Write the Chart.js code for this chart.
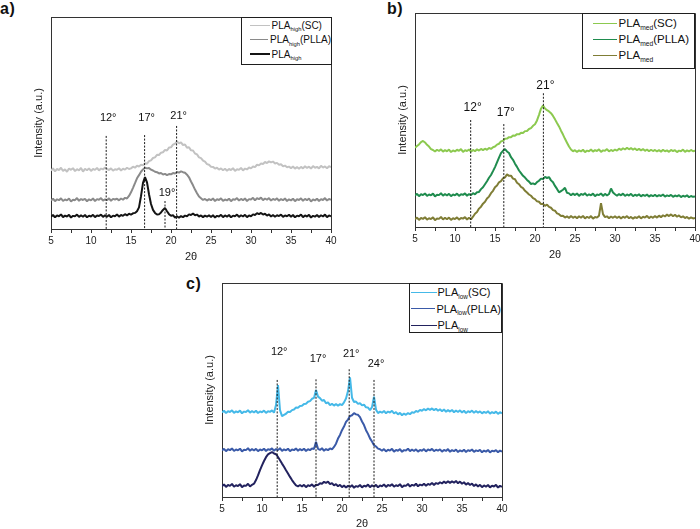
<!DOCTYPE html>
<html>
<head>
<meta charset="utf-8">
<script src="https://cdn.jsdelivr.net/npm/chart.js"></script>
<style>
  body { margin: 0; width: 700px; height: 529px; overflow: hidden; background: #fff; position: relative; }
  canvas { position: absolute; }
  .tag { position: absolute; font: bold 16px "Liberation Sans", Arial, sans-serif; line-height: 1; color: #111; letter-spacing: 0.5px; }
  .legend { position: absolute; box-sizing: border-box; border: 1.5px solid #1e1e1e; background: #fff;
            font-family: "Liberation Sans", Arial, sans-serif; color: #111; }
  .legend .row { display: flex; align-items: center; white-space: nowrap; }
  .legend .swatch { display: inline-block; height: 0; border-top-style: solid; }
  .legend .sub { font-size: 0.58em; position: relative; top: 0.4em; }
  #legendA { left: 241px; top: 17px; width: 91px; height: 48px; padding: 0 0 0 7.5px; font-size: 10px; }
  #legendA .row { height: 14.5px; }
  #legendA .swatch { width: 20px; margin-right: 2px; }
  #legendB { left: 582px; top: 13px; width: 113px; height: 56px; padding: 1px 0 0 9.5px; font-size: 11.5px; }
  #legendB .row { height: 16px; }
  #legendB .swatch { width: 24px; margin-right: 2px; }
  #legendC { left: 409px; top: 283px; width: 93px; height: 50px; padding: 0 0 0 0.5px; font-size: 11px; }
  #legendC .row { height: 16.5px; }
  #legendC .swatch { width: 26px; margin-right: 1px; }
</style>
</head>
<body>
<div class="tag" style="left:0px;top:1px">a)</div>
<div class="tag" style="left:387px;top:1px">b)</div>
<div class="tag" style="left:186px;top:276px">c)</div>

<canvas id="chartA" width="310" height="265" style="left:32px;top:0px"></canvas>
<canvas id="chartB" width="304" height="263" style="left:396px;top:0px"></canvas>
<canvas id="chartC" width="312" height="265" style="left:203px;top:266px"></canvas>

<div class="legend" id="legendA"></div>
<div class="legend" id="legendB"></div>
<div class="legend" id="legendC"></div>

<script>
// 2θ grid shared by every trace
const twoTheta = [
  5, 5.25, 5.5, 5.75, 6, 6.25, 6.5, 6.75, 7, 7.25, 7.5, 7.75, 8, 8.25, 8.5, 8.75, 9, 9.25, 9.5, 9.75,
  10, 10.25, 10.5, 10.75, 11, 11.25, 11.5, 11.75, 12, 12.25, 12.5, 12.75, 13, 13.25, 13.5, 13.75, 14, 14.25, 14.5, 14.75,
  15, 15.25, 15.5, 15.75, 16, 16.25, 16.5, 16.75, 17, 17.25, 17.5, 17.75, 18, 18.25, 18.5, 18.75, 19, 19.25, 19.5, 19.75,
  20, 20.25, 20.5, 20.75, 21, 21.25, 21.5, 21.75, 22, 22.25, 22.5, 22.75, 23, 23.25, 23.5, 23.75, 24, 24.25, 24.5, 24.75,
  25, 25.25, 25.5, 25.75, 26, 26.25, 26.5, 26.75, 27, 27.25, 27.5, 27.75, 28, 28.25, 28.5, 28.75, 29, 29.25, 29.5, 29.75,
  30, 30.25, 30.5, 30.75, 31, 31.25, 31.5, 31.75, 32, 32.25, 32.5, 32.75, 33, 33.25, 33.5, 33.75, 34, 34.25, 34.5, 34.75,
  35, 35.25, 35.5, 35.75, 36, 36.25, 36.5, 36.75, 37, 37.25, 37.5, 37.75, 38, 38.25, 38.5, 38.75, 39, 39.25, 39.5, 39.75,
  40
];
const xTicks = [5, 10, 15, 20, 25, 30, 35, 40];

// Panel a) PLA high
const highLabels = ['PLA_high(SC)', 'PLA_high(PLLA)', 'PLA_high'];
const highSC = [
  27.5, 28.6, 27.2, 28.3, 27.8, 28.9, 27.4, 28.1, 27.0, 28.5, 27.9, 28.7, 27.3, 28.2, 27.6, 28.8, 27.1, 28.4, 27.7, 28.6,
  27.4, 28.3, 27.9, 28.8, 27.6, 28.5, 28.1, 29.0, 28.4, 27.8, 28.6, 27.5, 28.2, 27.9, 28.7, 27.6, 28.4, 28.0, 28.9, 28.3,
  28.6, 29.4, 28.9, 29.8, 29.5, 30.3, 30.0, 31.0, 30.8, 32.0, 32.4, 33.5, 33.8, 35.0, 34.9, 36.0, 36.2, 37.3, 37.0, 38.4,
  38.5, 39.8, 40.2, 41.3, 40.4, 40.9, 39.6, 39.9, 38.3, 38.6, 37.1, 37.0, 35.6, 35.2, 33.8, 33.4, 32.3, 31.8, 30.6, 30.3,
  29.4, 29.3, 28.5, 28.9, 28.0, 28.6, 27.7, 28.4, 27.5, 28.3, 27.8, 28.7, 27.4, 28.2, 27.9, 28.8, 27.6, 28.5, 28.1, 29.0,
  28.6, 29.5, 29.2, 30.3, 30.0, 30.9, 30.7, 31.6, 31.1, 31.9, 31.4, 31.8, 30.9, 31.2, 30.3, 30.5, 29.6, 29.9, 29.1, 29.4,
  28.7, 29.5, 28.5, 29.2, 28.4, 29.3, 28.6, 29.6, 28.8, 29.4, 28.5, 29.7, 28.9, 29.3, 28.6, 29.8, 29.0, 29.5, 28.7, 29.6,
  29.2
];
const highPLLA = [
  13.4, 14.3, 13.1, 14.0, 13.6, 14.5, 13.2, 13.9, 13.5, 14.4, 13.0, 13.8, 13.6, 14.6, 13.3, 14.1, 13.7, 14.2, 13.1, 14.0,
  13.5, 14.4, 13.2, 14.1, 13.8, 14.6, 13.4, 14.0, 13.6, 14.5, 13.3, 14.2, 13.9, 14.3, 13.5, 14.4, 13.8, 14.7, 14.4, 15.6,
  17.3, 19.4, 21.6, 23.9, 25.4, 27.0, 28.1, 28.9, 28.6, 28.8, 28.0, 27.6, 27.0, 26.8, 26.2, 26.4, 25.7, 26.0, 25.4, 25.9,
  25.8, 26.4, 26.2, 26.9, 26.6, 27.2, 26.8, 26.5, 25.6, 24.4, 22.4, 20.6, 18.6, 16.9, 15.3, 14.5, 13.7, 14.2, 13.4, 14.1,
  13.6, 14.4, 13.2, 14.0, 13.7, 14.5, 13.3, 13.9, 13.5, 14.3, 13.1, 14.0, 13.8, 14.6, 13.4, 14.2, 13.6, 14.4, 13.2, 14.1,
  13.9, 14.7, 13.5, 14.5, 14.1, 14.8, 13.6, 14.4, 13.8, 14.6, 13.4, 14.2, 13.7, 14.5, 13.3, 14.1, 13.6, 14.4, 13.2, 14.0,
  13.5, 14.3, 13.1, 14.0, 13.7, 14.5, 13.3, 14.2, 13.6, 14.4, 13.0, 13.9, 13.5, 14.3, 13.2, 14.1, 13.7, 14.6, 13.4, 14.2,
  13.8
];
const highBase = [
  5.8, 6.6, 5.5, 6.4, 6.0, 6.9, 5.6, 6.3, 5.9, 6.7, 5.4, 6.2, 6.0, 6.8, 5.7, 6.5, 5.8, 6.6, 5.5, 6.3,
  5.9, 6.7, 5.6, 6.4, 6.1, 6.8, 5.7, 6.5, 5.8, 6.6, 5.5, 6.3, 6.0, 6.9, 5.8, 6.6, 6.2, 7.0, 6.4, 7.2,
  6.8, 7.4, 7.6, 8.4, 10.2, 15.5, 21.8, 24.5, 22.0, 16.4, 11.8, 9.0, 7.6, 6.8, 6.9, 7.8, 9.0, 9.9, 8.4, 7.0,
  6.2, 6.5, 5.4, 6.0, 5.3, 6.1, 5.6, 6.3, 6.0, 6.9, 6.6, 7.3, 6.5, 6.8, 5.9, 6.4, 5.6, 6.3, 5.8, 6.5,
  5.7, 6.5, 5.4, 6.2, 5.9, 6.7, 5.6, 6.4, 5.8, 6.6, 5.5, 6.3, 6.0, 6.8, 5.7, 6.5, 5.9, 6.7, 5.6, 6.4,
  6.0, 6.9, 6.6, 7.5, 7.0, 7.6, 6.8, 7.2, 6.3, 6.9, 5.9, 6.6, 5.8, 6.5, 6.1, 6.8, 5.7, 6.4, 6.0, 6.7,
  5.8, 6.6, 5.5, 6.3, 6.0, 6.8, 5.6, 6.4, 5.9, 6.7, 5.4, 6.2, 5.8, 6.6, 5.7, 6.5, 5.9, 6.8, 5.6, 6.4,
  6.0
];
const highPeaks = [11.9, 16.7, 19.25, 20.7];
const highPeakTops = [43.9, 44.3, 13.2, 48.6];
const highPeakText = ['12°', '17°', '19°', '21°'];
const highTextY = [52.4, 52.4, 17.2, 53.3];

// Panel b) PLA med
const medLabels = ['PLA_med(SC)', 'PLA_med(PLLA)', 'PLA_med'];
const medSC = [
  37.0, 37.8, 38.6, 39.7, 40.2, 39.5, 38.4, 37.6, 36.4, 36.0, 35.3, 36.1, 35.5, 36.3, 35.2, 35.9, 35.4, 36.2, 35.0, 35.8,
  35.3, 36.1, 35.6, 36.4, 35.1, 35.9, 35.5, 36.2, 35.2, 36.0, 35.4, 36.3, 35.7, 36.5, 35.9, 36.6, 36.1, 36.9, 36.5, 37.3,
  37.6, 38.5, 38.9, 40.0, 40.3, 41.2, 41.3, 42.0, 41.9, 42.8, 42.6, 43.4, 43.3, 44.0, 43.9, 44.8, 44.9, 45.8, 46.2, 47.3,
  48.0, 49.8, 52.4, 55.3, 56.8, 55.4, 54.6, 54.0, 53.2, 51.9, 50.3, 48.6, 47.0, 45.0, 43.2, 41.2, 39.4, 37.6, 36.2, 35.4,
  35.9, 35.1, 35.8, 35.3, 36.1, 35.0, 35.7, 35.4, 36.2, 35.2, 35.9, 35.5, 36.3, 35.1, 35.8, 35.6, 36.4, 35.3, 36.0, 35.5,
  36.2, 35.7, 36.6, 36.0, 36.8, 36.2, 37.0, 36.3, 36.9, 36.1, 36.7, 35.9, 36.5, 35.8, 36.4, 35.6, 36.2, 35.4, 36.1, 35.5,
  36.0, 35.3, 35.9, 35.2, 36.1, 35.4, 35.8, 35.1, 36.0, 35.5, 35.9, 35.0, 35.7, 35.4, 36.2, 35.1, 35.8, 35.3, 36.0, 35.4,
  35.7
];
const medPLLA = [
  14.7, 15.5, 14.4, 15.3, 14.9, 15.7, 14.5, 15.2, 14.8, 15.6, 14.3, 15.1, 14.9, 15.8, 14.6, 15.4, 14.7, 15.5, 14.4, 15.2,
  14.8, 15.6, 14.5, 15.3, 15.0, 15.7, 14.6, 15.4, 14.9, 15.8, 15.3, 16.2, 16.4, 17.7, 18.6, 20.0, 21.4, 23.0, 24.3, 26.1,
  28.0, 30.2, 32.4, 34.5, 35.6, 36.4, 35.3, 34.6, 32.6, 31.4, 29.6, 28.1, 26.4, 25.2, 23.9, 23.1, 22.0, 21.2, 20.1, 20.4,
  19.9, 21.0, 21.6, 22.6, 22.4, 23.4, 22.9, 23.3, 21.8, 20.9, 19.2, 17.8, 16.2, 16.8, 17.4, 18.3, 16.0, 15.7, 14.8, 15.6,
  14.9, 15.7, 14.5, 15.4, 15.0, 15.8, 14.6, 15.3, 14.8, 15.6, 14.4, 15.2, 14.9, 15.7, 14.5, 15.5, 14.7, 15.4, 18.0, 16.1,
  15.3, 14.6, 15.4, 14.8, 15.6, 14.5, 15.2, 14.7, 15.5, 14.4, 15.1, 14.6, 15.3, 14.3, 15.0, 14.5, 15.2, 14.2, 14.9, 14.4,
  15.1, 14.3, 14.9, 14.5, 15.2, 14.2, 14.8, 14.4, 15.0, 14.1, 14.7, 14.3, 14.9, 14.0, 14.6, 14.2, 14.8, 13.9, 14.5, 14.1,
  14.3
];
const medBase = [
  3.6, 4.4, 3.3, 4.2, 3.8, 4.6, 3.4, 4.1, 3.7, 4.5, 3.2, 4.0, 3.8, 4.7, 3.5, 4.3, 3.6, 4.4, 3.3, 4.1,
  3.7, 4.5, 3.4, 4.2, 3.9, 4.6, 3.5, 4.3, 3.6, 4.8, 6.2, 7.0, 8.6, 9.5, 10.9, 11.8, 13.3, 14.2, 15.8, 16.9,
  18.6, 19.4, 20.9, 21.4, 22.7, 23.2, 24.6, 23.9, 24.0, 22.6, 22.3, 20.7, 20.0, 18.7, 18.2, 16.9, 16.1, 15.2, 14.6, 13.5,
  13.0, 12.0, 11.8, 10.7, 10.8, 9.9, 10.5, 9.4, 9.0, 7.9, 7.6, 6.4, 6.0, 5.1, 5.3, 4.4, 5.0, 4.2, 5.1, 4.3,
  4.9, 4.1, 5.0, 4.3, 5.2, 4.0, 4.8, 4.2, 5.1, 3.9, 4.7, 4.4, 5.3, 11.1, 6.0, 4.6, 5.0, 4.1, 4.9, 4.3,
  5.0, 4.2, 4.9, 4.0, 4.8, 4.3, 5.1, 4.1, 4.7, 3.9, 4.6, 4.2, 5.0, 4.0, 4.8, 4.4, 5.2, 4.1, 4.9, 4.3,
  5.1, 4.4, 5.3, 4.6, 5.5, 4.9, 5.8, 5.1, 5.9, 5.0, 5.7, 4.8, 5.4, 4.5, 5.0, 4.2, 4.7, 3.9, 4.5, 4.0,
  4.2
];
const medPeaks = [11.96, 16.1, 21.05];
const medPeakTops = [50, 48.1, 62.5];
const medPeakText = ['12°', '17°', '21°'];
const medTextY = [55.8, 53.5, 65.9];

// Panel c) PLA low
const lowLabels = ['PLA_low(SC)', 'PLA_low(PLLA)', 'PLA_low'];
const lowSC = [
  39.5, 40.3, 39.2, 40.1, 39.7, 40.5, 39.3, 40.0, 39.6, 40.4, 39.1, 39.9, 39.7, 40.6, 39.4, 40.2, 39.5, 40.3, 39.2, 40.0,
  39.6, 40.4, 39.3, 40.1, 39.8, 40.5, 39.4, 43.0, 52.3, 40.6, 37.8, 38.4, 38.9, 39.8, 39.7, 40.6, 40.9, 41.8, 41.7, 42.5,
  42.6, 43.5, 43.6, 44.5, 44.8, 45.9, 46.3, 50.0, 46.9, 46.2, 45.0, 45.3, 43.8, 44.2, 42.9, 43.6, 42.7, 43.5, 42.6, 43.4,
  42.9, 44.2, 46.0, 49.5, 55.9, 46.4, 44.4, 44.6, 43.5, 43.9, 42.8, 43.2, 41.9, 41.8, 40.6, 42.0, 46.9, 40.8, 39.2, 39.9,
  39.4, 40.2, 39.1, 39.9, 39.5, 40.3, 39.0, 39.7, 38.6, 39.3, 38.2, 39.0, 38.4, 39.2, 38.7, 39.6, 39.3, 40.2, 39.8, 40.7,
  40.3, 41.1, 40.5, 41.3, 40.7, 41.4, 40.6, 41.2, 40.3, 41.0, 40.1, 40.9, 39.8, 40.6, 39.9, 40.7, 39.6, 40.4, 39.7, 40.5,
  39.5, 40.3, 39.2, 40.1, 39.6, 40.4, 39.3, 40.2, 39.4, 40.0, 39.1, 39.8, 39.3, 40.1, 38.9, 39.7, 39.2, 39.9, 38.8, 39.6,
  39.1
];
const lowPLLA = [
  21.7, 22.5, 21.4, 22.3, 21.9, 22.7, 21.5, 22.2, 21.8, 22.6, 21.3, 22.1, 21.9, 22.8, 21.6, 22.4, 21.7, 22.5, 21.4, 22.2,
  21.8, 22.6, 21.5, 22.3, 22.0, 22.7, 21.6, 22.4, 21.9, 22.8, 21.5, 22.3, 21.8, 22.6, 21.4, 22.2, 21.9, 22.7, 21.6, 22.4,
  21.8, 22.6, 21.5, 22.3, 21.9, 22.7, 22.4, 25.8, 22.5, 22.0, 22.8, 21.6, 22.4, 21.9, 22.7, 22.3, 23.4, 24.9, 27.3, 29.0,
  31.2, 32.9, 35.1, 36.2, 37.8, 38.2, 39.2, 38.6, 38.4, 37.3, 35.3, 33.6, 31.2, 29.5, 27.4, 25.9, 24.2, 23.6, 22.6, 22.3,
  21.6, 22.4, 21.3, 22.1, 21.7, 22.5, 21.2, 22.0, 21.6, 22.4, 21.1, 21.9, 21.7, 22.6, 21.4, 22.2, 21.5, 22.3, 21.2, 22.0,
  21.6, 22.4, 21.3, 22.2, 21.8, 22.5, 21.4, 22.1, 21.7, 22.3, 21.2, 22.0, 21.5, 22.4, 21.1, 21.9, 21.4, 22.2, 21.0, 21.8,
  21.3, 22.1, 21.0, 21.9, 21.5, 22.2, 21.1, 21.8, 21.4, 22.0, 20.9, 21.7, 21.2, 22.0, 20.8, 21.6, 21.3, 21.9, 20.9, 21.7,
  21.2
];
const lowBase = [
  5.0, 5.9, 4.7, 5.6, 5.2, 6.1, 4.8, 5.5, 5.1, 6.0, 4.6, 5.4, 5.2, 6.2, 4.9, 5.7, 6.2, 7.9, 10.1, 12.6,
  14.8, 16.8, 18.6, 19.9, 20.5, 21.0, 20.3, 20.0, 18.7, 17.2, 15.6, 14.1, 12.5, 11.0, 9.4, 7.9, 6.6, 5.4, 5.0, 5.6,
  4.9, 5.7, 4.6, 5.5, 5.1, 5.9, 4.8, 5.7, 5.6, 6.4, 6.2, 7.1, 6.6, 7.2, 6.0, 6.5, 5.4, 6.0, 5.0, 5.7,
  4.6, 5.4, 4.4, 5.2, 4.7, 5.5, 4.3, 5.1, 4.8, 5.6, 4.5, 5.3, 4.9, 5.8, 4.6, 5.5, 4.8, 5.7, 4.5, 5.4,
  5.0, 5.9, 4.7, 5.6, 5.2, 6.0, 4.8, 5.5, 5.1, 6.0, 4.6, 5.4, 5.2, 6.1, 4.9, 5.7, 5.3, 6.2, 5.0, 5.8,
  5.4, 6.2, 5.3, 6.1, 5.7, 6.6, 5.6, 6.5, 6.1, 6.9, 6.3, 7.2, 6.5, 7.4, 6.6, 7.3, 6.7, 7.5, 6.4, 7.2,
  6.2, 6.9, 5.8, 6.5, 5.6, 6.3, 5.1, 5.9, 4.9, 5.7, 4.6, 5.4, 4.8, 5.6, 4.5, 5.3, 4.9, 5.7, 4.4, 5.2,
  4.8
];
const lowPeaks = [11.9, 16.75, 20.9, 24.0];
const lowPeakTops = [54.7, 55.0, 59.7, 54.7];
const lowPeakText = ['12°', '17°', '21°', '24°'];
const lowTextY = [67.8, 64.7, 67.0, 62.1];

const FONT = '"Liberation Sans", Arial, sans-serif';

function traceSet(label, values, color, width, keyWidth) {
  return {
    label: label,
    data: twoTheta.map((t, i) => ({ x: t, y: values[i] })),
    borderColor: color,
    borderWidth: width,
    borderJoinStyle: 'bevel',
    pointRadius: 0,
    tension: 0,
    order: 2,
    isTrace: true,
    keyWidth: keyWidth
  };
}

// dashed marker lines at the reflections
function markerSets(xs, tops) {
  return xs.map((p, i) => ({
    label: 'marker',
    data: [{ x: p, y: tops[i] }, { x: p, y: 0 }],
    borderColor: '#1a1a1a',
    borderWidth: 1,
    borderDash: [2, 1.5],
    pointRadius: 0,
    order: 1
  }));
}

const framePlugin = {
  id: 'frame',
  afterDraw(chart) {
    const { ctx, chartArea: a } = chart;
    ctx.save();
    ctx.strokeStyle = '#333';
    ctx.lineWidth = 1;
    ctx.beginPath();
    ctx.moveTo(a.left, Math.round(a.top) + 0.5);
    ctx.lineTo(Math.round(a.right) + 0.5, Math.round(a.top) + 0.5);
    ctx.lineTo(Math.round(a.right) + 0.5, a.bottom);
    ctx.stroke();
    ctx.restore();
  }
};

function peakLabels(xs, ys, texts, size) {
  return {
    id: 'peakLabels',
    afterDatasetsDraw(chart) {
      const { ctx, scales: { x, y } } = chart;
      ctx.save();
      ctx.fillStyle = '#111';
      ctx.font = size + 'px ' + FONT;
      ctx.textAlign = 'center';
      ctx.textBaseline = 'middle';
      texts.forEach((t, i) => ctx.fillText(t, x.getPixelForValue(xs[i]) + 2, y.getPixelForValue(ys[i])));
      ctx.restore();
    }
  };
}

function makeChart(id, box, series, markers, labelPlugin) {
  return new Chart(document.getElementById(id), {
    type: 'line',
    data: { datasets: markers.concat(series) },
    options: {
      responsive: false,
      animation: false,
      layout: { padding: { left: 0, top: box.top, right: box.right, bottom: 0 } },
      plugins: { legend: { display: false }, tooltip: { enabled: false } },
      scales: {
        x: {
          type: 'linear', min: 5, max: 40,
          afterFit: s => { s.height = box.xh; s.paddingLeft = 0; s.paddingRight = 0; },
          ticks: {
            stepSize: 2.5, autoSkip: false, maxRotation: 0, padding: 2, color: '#222',
            font: { family: FONT, size: 10 },
            callback: v => xTicks.includes(v) ? String(v) : ''
          },
          grid: { drawOnChartArea: false, tickLength: 4, tickColor: '#333' },
          border: { color: '#333', width: 1 },
          title: { display: true, text: '2θ', color: '#222', font: { family: FONT, size: 11 },
                   padding: { top: 0, bottom: box.tb } }
        },
        y: {
          min: 0, max: 100,
          afterFit: s => { s.width = box.yw; s.paddingTop = 0; s.paddingBottom = 0; },
          ticks: { display: false },
          grid: { display: false },
          border: { color: '#333', width: 1 },
          title: { display: true, text: 'Intensity (a.u.)', color: '#222', font: { family: FONT, size: 11 }, padding: 0 }
        }
      }
    },
    plugins: [framePlugin, labelPlugin]
  });
}

function buildLegend(elId, chart) {
  const el = document.getElementById(elId);
  chart.data.datasets.filter(d => d.isTrace).forEach(d => {
    const row = document.createElement('div');
    row.className = 'row';
    const sw = document.createElement('span');
    sw.className = 'swatch';
    sw.style.borderTopColor = d.borderColor;
    sw.style.borderTopWidth = d.keyWidth + 'px';
    const txt = document.createElement('span');
    txt.innerHTML = d.label.replace(/_(\w+)/, '<span class="sub">$1</span>');
    row.appendChild(sw);
    row.appendChild(txt);
    el.appendChild(row);
  });
}

const chartA = makeChart('chartA', { top: 17, right: 11, yw: 19, xh: 36, tb: 1 }, [
  traceSet(highLabels[0], highSC, '#c2c2c2', 2, 1),
  traceSet(highLabels[1], highPLLA, '#8a8a8a', 2, 1),
  traceSet(highLabels[2], highBase, '#141414', 2, 2)
], markerSets(highPeaks, highPeakTops), peakLabels(highPeaks, highTextY, highPeakText, 11));

const chartB = makeChart('chartB', { top: 13, right: 5, yw: 19, xh: 36, tb: 1 }, [
  traceSet(medLabels[0], medSC, '#8cc94f', 2, 1.5),
  traceSet(medLabels[1], medPLLA, '#1f8c4e', 2, 1.5),
  traceSet(medLabels[2], medBase, '#7f7d35', 2, 1.5)
], markerSets(medPeaks, medPeakTops), peakLabels(medPeaks, medTextY, medPeakText, 12));

const chartC = makeChart('chartC', { top: 17, right: 13, yw: 19, xh: 34, tb: 0 }, [
  traceSet(lowLabels[0], lowSC, '#45b9e8', 2, 1.5),
  traceSet(lowLabels[1], lowPLLA, '#3a5aa8', 2, 1.5),
  traceSet(lowLabels[2], lowBase, '#22225e', 2, 1.5)
], markerSets(lowPeaks, lowPeakTops), peakLabels(lowPeaks, lowTextY, lowPeakText, 11));

buildLegend('legendA', chartA);
buildLegend('legendB', chartB);
buildLegend('legendC', chartC);
</script>
</body>
</html>
